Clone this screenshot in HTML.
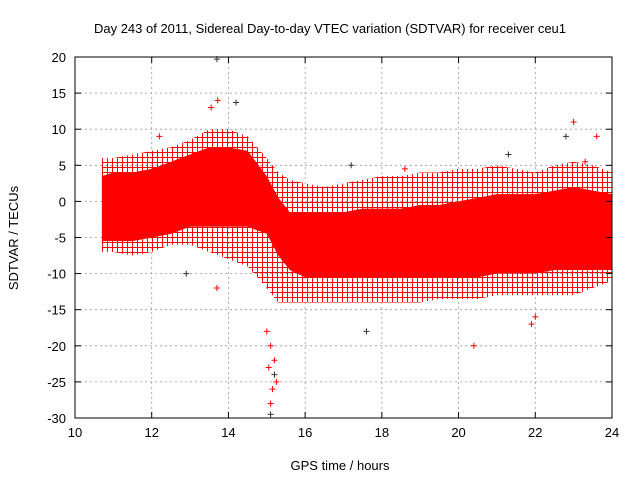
<!DOCTYPE html>
<html><head><meta charset="utf-8"><style>
body{margin:0;background:#fff}
svg text{font-family:"Liberation Sans",sans-serif;font-size:13px;fill:#000}
</style></head><body>
<svg id="c" width="640" height="480" xmlns="http://www.w3.org/2000/svg">
<defs>
<pattern id="crossPat" width="5" height="5" patternUnits="userSpaceOnUse">
<path d="M0,2.5h5M2.5,0v5" stroke="#f00" stroke-width="1"/>
</pattern>
</defs>
<text x="330" y="33" text-anchor="middle">Day 243 of 2011, Sidereal Day-to-day VTEC variation (SDTVAR) for receiver ceu1</text>
<text x="340" y="470" text-anchor="middle">GPS time / hours</text>
<text transform="translate(18,238) rotate(-90)" text-anchor="middle">SDTVAR / TECUs</text>
<g id="grid"></g><g id="marks"></g><g id="axes"></g>
</svg>
<script>
const xTicks=[10,12,14,16,18,20,22,24];
const yTicks=[20,15,10,5,0,-5,-10,-15,-20,-25,-30];
const binTimes=[10.7,11,11.5,12,12.5,13,13.5,14,14.5,15,15.3,15.6,16,16.5,17,17.5,18,18.5,19,19.5,20,20.5,21,21.5,22,22.5,23,23.5,24];
const coreLow=[-5.5,-5.5,-5.5,-5,-4.5,-3.5,-3.5,-3.5,-3.5,-4.5,-7.5,-9.5,-10.5,-10.5,-10.5,-10.5,-10.5,-10.5,-10.5,-10.5,-10.5,-10.5,-10,-10,-10,-9.5,-9.5,-9.5,-9.5];
const coreHigh=[3.5,4,4,4.5,5.5,6.5,7.5,7.5,7,3.5,0.5,-1.5,-1.5,-1.5,-1.5,-1,-1,-1,-0.5,-0.5,0,0.5,1,1,1,1.5,2,1.5,1];
const outerLow=[-7,-7,-7.5,-7,-6,-6,-7,-8,-9,-12,-14,-14,-14,-14,-14,-14,-14,-14,-14,-13.5,-13.5,-13.5,-13,-13,-13,-13,-13,-12,-11];
const outerHigh=[6,6,6.5,7,7.5,8.5,10,10,9,6,4,3,2.5,2,2.5,3,3.5,3.5,4,4,4.5,4.5,5,4.5,4,5,5.5,5,4];
const outX=[13.7,13.72,13.55,14.2,15.1,15.15,15.2,15.1,15.0,17.6,20.4,23.0,22.8,23.6,12.2,21.3,22.0,21.9,12.9,13.7,15.2,15.1,15.25,15.05,17.2,18.6,23.3];
const outY=[19.7,14,13,13.7,-28,-26,-24,-20,-18,-18,-20,11,9,9,9,6.5,-16,-17,-10,-12,-22,-29.5,-25,-23,5,4.5,5.5];
const X0=75,X1=612,Y0=57,Y1=418;
const sx=v=>X0+(v-10)/14*(X1-X0);
const sy=v=>Y0+(20-v)/50*(Y1-Y0);
const NS="http://www.w3.org/2000/svg";
const mk=(t,a,p)=>{const e=document.createElementNS(NS,t);for(const k in a)e.setAttribute(k,a[k]);p.appendChild(e);return e;};
const grid=document.getElementById('grid'),axes=document.getElementById('axes'),marks=document.getElementById('marks');
xTicks.forEach(v=>{
 const g=mk('line',{x1:sx(v),x2:sx(v),y1:Y0,y2:Y1,stroke:'#999','stroke-dasharray':'2,3','stroke-width':0.8},grid);
 
 
 const t=mk('text',{x:sx(v),y:Y1+19,'text-anchor':'middle'},axes);t.textContent=v;
 
 
 mk('line',{x1:sx(v),x2:sx(v),y1:Y1,y2:Y1-6,stroke:'#000'},axes);
 mk('line',{x1:sx(v),x2:sx(v),y1:Y0,y2:Y0+6,stroke:'#000'},axes);
});
yTicks.forEach(v=>{
 const g=mk('line',{x1:X0,x2:X1,y1:sy(v),y2:sy(v),stroke:'#999','stroke-dasharray':'2,3','stroke-width':0.8},grid);
 
 
 const t=mk('text',{x:X0-9,y:sy(v)+5,'text-anchor':'end'},axes);t.textContent=v;
 
 
 mk('line',{x1:X0,x2:X0+6,y1:sy(v),y2:sy(v),stroke:'#000'},axes);
 mk('line',{x1:X1,x2:X1-6,y1:sy(v),y2:sy(v),stroke:'#000'},axes);
});
const frame=mk('rect',{x:X0,y:Y0,width:X1-X0,height:Y1-Y0,fill:'none',stroke:'#000'},axes);


function band(lo,hi,fill,name){
 let d='M'+binTimes.map((t,i)=>sx(t)+','+sy(hi[i])).join('L');
 d+='L'+binTimes.map((t,i)=>sx(t)+','+sy(lo[i])).reverse().join('L')+'Z';
 const p=mk('path',{d:d,fill:fill},marks);
 
 
}
band(outerLow,outerHigh,'url(#crossPat)','sparse-scatter-envelope');
band(coreLow,coreHigh,'#f00','dense-scatter-core');
outX.forEach((x,i)=>{
 const p=mk('path',{d:`M${sx(x)-3},${sy(outY[i])}h6M${sx(x)},${sy(outY[i])-3}v6`,stroke:i%3==0?'#333':'#f00','stroke-width':1},marks);
 
 
});
</script>
</body></html>
